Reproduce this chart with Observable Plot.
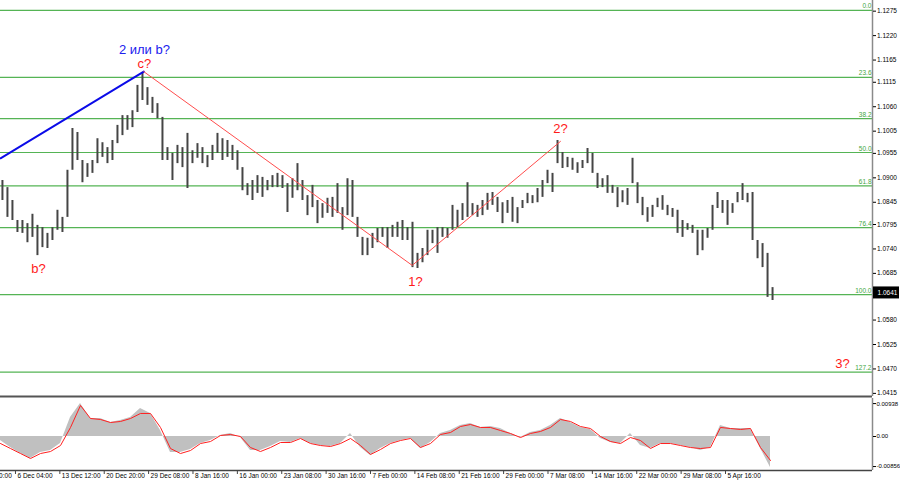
<!DOCTYPE html>
<html><head><meta charset="utf-8">
<script src="https://cdn.jsdelivr.net/npm/d3@7"></script>
<script src="https://cdn.jsdelivr.net/npm/@observablehq/plot@0.6"></script>
<style>
html,body{margin:0;padding:0;background:#fff;}
#chart svg{display:block;overflow:visible;}
</style></head><body><div id="chart"></div>
<script>
// ---- price bars (EURUSD H4, sampled), high / low ----
const highs = [1.0894,1.0878,1.0849,1.0804,1.0804,1.0797,1.0818,1.0793,1.0788,1.0775,
1.0788,1.0827,1.0811,1.0917,1.1011,1.1002,1.0939,1.0932,1.0939,1.0988,
1.0979,1.0968,1.0984,1.1018,1.1040,1.1040,1.1051,1.1108,1.1137,1.1103,
1.1081,1.1067,1.1036,1.0968,1.0955,1.0973,1.0968,1.1000,1.0961,1.0977,
1.0968,1.0950,1.0973,1.1000,1.0988,1.0984,1.0973,1.0961,1.0923,1.0887,
1.0894,1.0905,1.0901,1.0894,1.0905,1.0910,1.0905,1.0887,1.0898,1.0932,
1.0894,1.0860,1.0883,1.0849,1.0842,1.0854,1.0856,1.0887,1.0833,1.0898,
1.0894,1.0811,1.0766,1.0764,1.0775,1.0786,1.0788,1.0788,1.0793,1.0800,
1.0804,1.0788,1.0800,1.0730,1.0741,1.0782,1.0782,1.0788,1.0788,1.0786,
1.0838,1.0827,1.0842,1.0889,1.0842,1.0838,1.0849,1.0865,1.0867,1.0856,
1.0844,1.0849,1.0856,1.0833,1.0849,1.0865,1.0860,1.0876,1.0894,1.0917,
1.0910,1.0984,1.0957,1.0946,1.0944,1.0934,1.0939,1.0966,1.0955,1.0910,
1.0898,1.0905,1.0883,1.0878,1.0871,1.0876,1.0944,1.0889,1.0856,1.0833,
1.0838,1.0854,1.0860,1.0838,1.0831,1.0827,1.0804,1.0797,1.0793,1.0782,
1.0782,1.0786,1.0838,1.0867,1.0849,1.0849,1.0842,1.0867,1.0887,1.0865,
1.0867,1.0759,1.0752,1.0730,1.0653];
const lows = [1.0849,1.0811,1.0804,1.0777,1.0775,1.0754,1.0766,1.0725,1.0743,1.0741,
1.0759,1.0782,1.0777,1.0811,1.0917,1.0939,1.0889,1.0901,1.0910,1.0932,
1.0946,1.0932,1.0939,1.0977,1.0995,1.1007,1.1013,1.1047,1.1074,1.1063,
1.1045,1.1033,1.0939,1.0939,1.0894,1.0932,1.0923,1.0876,1.0932,1.0944,
1.0932,1.0923,1.0939,1.0955,1.0939,1.0946,1.0939,1.0917,1.0871,1.0860,
1.0849,1.0865,1.0856,1.0871,1.0878,1.0878,1.0876,1.0822,1.0854,1.0871,
1.0849,1.0815,1.0833,1.0797,1.0809,1.0820,1.0811,1.0820,1.0782,1.0815,
1.0811,1.0766,1.0725,1.0725,1.0741,1.0754,1.0766,1.0741,1.0766,1.0766,
1.0759,1.0759,1.0698,1.0696,1.0709,1.0725,1.0752,1.0730,1.0766,1.0764,
1.0782,1.0788,1.0804,1.0811,1.0815,1.0811,1.0815,1.0827,1.0838,1.0822,
1.0797,1.0820,1.0800,1.0797,1.0831,1.0842,1.0842,1.0844,1.0856,1.0887,
1.0867,1.0932,1.0921,1.0923,1.0917,1.0910,1.0921,1.0932,1.0910,1.0876,
1.0878,1.0865,1.0865,1.0833,1.0844,1.0838,1.0887,1.0842,1.0815,1.0800,
1.0811,1.0833,1.0827,1.0815,1.0811,1.0775,1.0766,1.0782,1.0775,1.0725,
1.0736,1.0764,1.0782,1.0831,1.0820,1.0793,1.0820,1.0844,1.0849,1.0844,
1.0759,1.0718,1.0698,1.0631,1.0624];
const SAMPLE_START = 22.6, SAMPLE_STEP = 3.606;   // bar index of samples

// ---- oscillator (histogram and signal line) ----
const hist = [-0.00114,-0.00314,-0.00485,-0.00627,-0.00456,-0.00399,-0.00200,0.00542,0.00941,0.00513,
0.00513,0.00399,0.00456,0.00542,0.00798,0.00656,0.00171,-0.00456,-0.00456,-0.00371,
-0.00200,-0.00114,0.00029,0.00086,-0.00029,-0.00399,-0.00399,-0.00285,-0.00143,-0.00171,
-0.00057,-0.00200,-0.00257,-0.00285,-0.00200,0.00086,-0.00314,-0.00542,-0.00342,-0.00200,
-0.00114,-0.00057,-0.00342,-0.00171,0.00086,0.00171,0.00314,0.00371,0.00257,0.00285,
0.00228,0.00086,-0.00029,0.00114,0.00171,0.00314,0.00513,0.00399,0.00257,0.00200,
-0.00057,-0.00171,-0.00200,0.00086,-0.00257,-0.00342,-0.00200,-0.00200,-0.00257,-0.00314,
-0.00399,-0.00314,0.00314,0.00228,0.00228,0.00228,-0.00342,-0.00884];
const signal = [-0.00200,-0.00342,-0.00485,-0.00627,-0.00485,-0.00428,-0.00257,0.00257,0.00884,0.00513,
0.00485,0.00399,0.00428,0.00513,0.00656,0.00656,0.00257,-0.00342,-0.00485,-0.00399,
-0.00200,-0.00143,0.00029,0.00057,0,-0.00314,-0.00428,-0.00314,-0.00171,-0.00171,
-0.00057,-0.00200,-0.00257,-0.00285,-0.00200,-0.00057,-0.00257,-0.00513,-0.00371,-0.00200,
-0.00114,-0.00057,-0.00314,-0.00200,0.00057,0.00114,0.00285,0.00342,0.00257,0.00257,
0.00171,0.00086,-0.00029,0.00086,0.00143,0.00257,0.00485,0.00428,0.00285,0.00228,
0,-0.00143,-0.00200,-0.00029,-0.00114,-0.00342,-0.00200,-0.00200,-0.00257,-0.00314,
-0.00342,-0.00314,0.00257,0.00228,0.00200,0.00228,-0.00314,-0.00684];
const IND_START = 21.2, IND_STEP = 7.211;

// ---- Fibonacci levels ----
const fibNames = ["0.0","23.6","38.2","50.0","61.8","76.4","100.0","127.2"];
const fibPrices = [1.1277,1.1126,1.1033,1.0957,1.0882,1.0788,1.0637,1.0463];

// ---- wave markup ----
const blueWaveBars = [21.2, 124.5];
const blueWavePrices = [1.0944, 1.1139];
const redWaveBars = [124.5, 318.1, 425.0];
const redWavePrices = [1.1139, 1.0703, 1.0982];
const blueLabelText = ["2 или b?"];
const blueLabelBars = [125.0];
const blueLabelPrices = [1.1189];
const redLabelText = ["c?", "b?", "1?", "2?", "3?"];
const redLabelBars = [125.0, 48.6, 320.5, 425.0, 628.4];
const redLabelPrices = [1.1157, 1.0696, 1.0667, 1.1011, 1.0482];

// ---- axes ----
const priceTicks = [1.1275,1.1220,1.1165,1.1115,1.1060,1.1005,1.0955,1.0900,1.0845,1.0795,1.0740,1.0685,1.0580,1.0525,1.0470,1.0415];
const oscTicks = [0.00938, 0, -0.00856];
const oscTickText = ["0.00938", "0.00", "-0.00856"];
const dateLabels = ["29 Nov 00:00","6 Dec 04:00","13 Dec 12:00","20 Dec 20:00","29 Dec 08:00","8 Jan 16:00","16 Jan 00:00","23 Jan 08:00","30 Jan 16:00","7 Feb 00:00","14 Feb 08:00","21 Feb 16:00","29 Feb 00:00","7 Mar 08:00","14 Mar 16:00","22 Mar 00:00","29 Mar 08:00","5 Apr 16:00"];
const BARS_PER_LABEL = 32;
const lastPrice = 1.0641;

const X_MIN = 21.2, X_MAX = 650.0;
const Y_MIN = 1.0408, Y_MAX = 1.1299;
const O_MIN = -0.00969, O_MAX = 0.01083;

const bars = highs.map((h, i) => ({bar: SAMPLE_START + i * SAMPLE_STEP, high: h, low: lows[i]}));
const osc = hist.map((v, i) => ({bar: IND_START + i * IND_STEP, hist: v, signal: signal[i]}));
const fib = fibNames.map((n, i) => ({name: n, price: fibPrices[i]}));
const blueWave = blueWaveBars.map((b, i) => ({bar: b, price: blueWavePrices[i]}));
const redWave = redWaveBars.map((b, i) => ({bar: b, price: redWavePrices[i]}));
const blueLabels = blueLabelText.map((t, i) => ({text: t, bar: blueLabelBars[i], price: blueLabelPrices[i]}));
const redLabels = redLabelText.map((t, i) => ({text: t, bar: redLabelBars[i], price: redLabelPrices[i]}));
const dates = dateLabels.map((t, i) => ({label: t, bar: i * BARS_PER_LABEL}));
const oscTickMap = new Map(oscTicks.map((v, i) => [v, oscTickText[i]]));

const FONT = "'Liberation Sans', Arial, sans-serif";
const GREEN = "#55b455";

const main = Plot.plot({
  width: 900, height: 398,
  marginLeft: 0, marginRight: 28, marginTop: 0, marginBottom: 2,
  style: {fontFamily: FONT, fontSize: "6.5px", background: "white", color: "#000"},
  x: {domain: [X_MIN, X_MAX], axis: null},
  y: {domain: [Y_MIN, Y_MAX], axis: null},
  marks: [
    Plot.ruleY(fib, {y: "price", stroke: GREEN, strokeWidth: 1.2}),
    Plot.ruleX(bars, {x: "bar", y1: "low", y2: "high", stroke: "#454545", strokeWidth: 2}),
    Plot.line(blueWave, {x: "bar", y: "price", stroke: "#0b0be8", strokeWidth: 2}),
    Plot.line(redWave, {x: "bar", y: "price", stroke: "#ff4d4d", strokeWidth: 1}),
    Plot.text(fib, {y: "price", text: "name", frameAnchor: "right", textAnchor: "end", dx: -1, dy: -4, fill: "#3fa63f", fontSize: 6.5}),
    Plot.text(blueLabels, {x: "bar", y: "price", text: "text", fill: "#2020ee", fontSize: 13}),
    Plot.text(redLabels, {x: "bar", y: "price", text: "text", fill: "#ff1a1a", fontSize: 13}),
    Plot.ruleY([Y_MIN], {stroke: "#555", strokeWidth: 2}),
    Plot.ruleX([X_MAX], {stroke: "#8a8a8a", strokeWidth: 1.5}),
    Plot.axisY({anchor: "right", ticks: priceTicks, tickFormat: d => d.toFixed(4), tickSize: 3, tickPadding: 1.5, fontSize: 6.5}),
    Plot.rect([lastPrice], {x1: () => X_MAX, x2: () => X_MAX, y1: d => d, y2: d => d, insetLeft: 1, insetRight: -27, insetTop: -6, insetBottom: -6, fill: "#000"}),
    Plot.text([lastPrice], {x: () => X_MAX, y: d => d, text: d => d.toFixed(4), dx: 15, fill: "#fff", fontSize: 6.5})
  ]
});

const lower = Plot.plot({
  width: 900, height: 87,
  marginLeft: 0, marginRight: 28, marginTop: 0, marginBottom: 15,
  style: {fontFamily: FONT, fontSize: "6.5px", background: "white", color: "#000"},
  x: {domain: [X_MIN, X_MAX], axis: null},
  y: {domain: [O_MIN, O_MAX], axis: null},
  marks: [
    Plot.areaY(osc, {x: "bar", y1: 0, y2: "hist", fill: "#c0c0c0"}),
    Plot.line(osc, {x: "bar", y: "signal", stroke: "#ff2020", strokeWidth: 1}),
    Plot.ruleY([O_MIN], {stroke: "#444", strokeWidth: 1.5}),
    Plot.ruleX([X_MAX], {stroke: "#8a8a8a", strokeWidth: 1.5}),
    Plot.axisY({anchor: "right", ticks: oscTicks, tickFormat: d => oscTickMap.get(d), tickSize: 3, tickPadding: 1, fontSize: 6}),
    Plot.ruleX(dates, {x: "bar", y1: O_MIN, y2: O_MIN, insetBottom: -4, stroke: "#444"}),
    Plot.text(dates, {x: "bar", text: "label", frameAnchor: "bottom", dy: 7, dx: 2, textAnchor: "start", fontSize: 6.5, fill: "#000"})
  ]
});

document.getElementById("chart").append(main, lower);
</script>
</body></html>
